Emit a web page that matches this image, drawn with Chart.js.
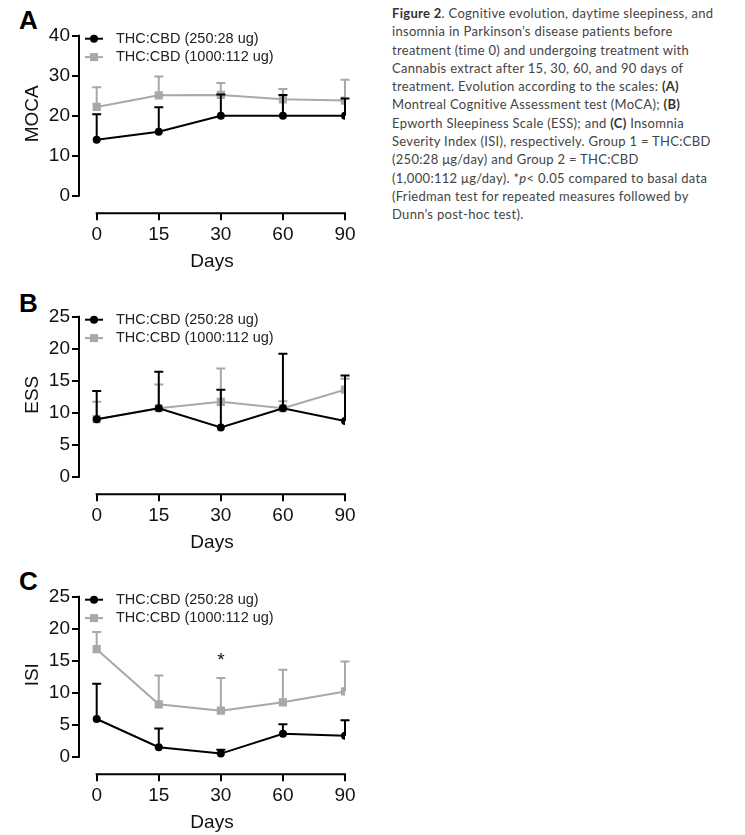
<!DOCTYPE html>
<html>
<head>
<meta charset="utf-8">
<script src="https://cdn.jsdelivr.net/npm/chart.js@4.4.1/dist/chart.umd.min.js"></script>
<style>
body { margin: 0; background: #fff; width: 745px; height: 835px; position: relative; overflow: hidden; }
canvas { position: absolute; left: 0; }
.letter { position: absolute; left: 19px; font: bold 26px "Liberation Sans", Arial, sans-serif; color: #000; }
.caption { position: absolute; left: 392px; top: 4px; font-family: Lato, sans-serif; font-size: 13px; letter-spacing: 0.3px; line-height: 18.3px; color: #444; white-space: nowrap; }
.caption b { font-weight: bold; color: #333; }
</style>
</head>
<body>
<div class="letter" style="top:5px">A</div>
<div class="letter" style="top:288px">B</div>
<div class="letter" style="top:566px">C</div>
<canvas id="chartA" width="370" height="275" style="top:0px"></canvas>
<canvas id="chartB" width="370" height="275" style="top:281px"></canvas>
<canvas id="chartC" width="370" height="275" style="top:560.5px"></canvas>
<div class="caption">
<b>Figure 2</b>. Cognitive evolution, daytime sleepiness, and<br>
insomnia in Parkinson’s disease patients before<br>
treatment (time 0) and undergoing treatment with<br>
Cannabis extract after 15, 30, 60, and 90 days of<br>
treatment. Evolution according to the scales: <b>(A)</b><br>
Montreal Cognitive Assessment test (MoCA); <b>(B)</b><br>
Epworth Sleepiness Scale (ESS); and <b>(C)</b> Insomnia<br>
Severity Index (ISI), respectively. Group 1 = THC:CBD<br>
(250:28 μg/day) and Group 2 = THC:CBD<br>
(1,000:112 μg/day). *<i>p</i>&lt; 0.05 compared to basal data<br>
(Friedman test for repeated measures followed by<br>
Dunn’s post-hoc test).
</div>
<script>
var days = ['0', '15', '30', '60', '90'];
var labelLow = 'THC:CBD (250:28 ug)';
var labelHigh = 'THC:CBD (1000:112 ug)';

// means and SD (upper error bar only)
var mocaLow = [14, 16, 20, 20, 20];
var mocaLowSd = [6.4, 6.1, 5.3, 5.2, 4.3];
var mocaHigh = [22.2, 25.1, 25.2, 24.1, 23.8];
var mocaHighSd = [4.9, 4.7, 3.0, 2.6, 5.2];

var essLow = [9.0, 10.7, 7.7, 10.7, 8.7];
var essLowSd = [4.4, 5.7, 5.9, 8.5, 7.1];
var essHigh = [9.0, 10.7, 11.7, 10.7, 13.6];
var essHighSd = [2.7, 3.7, 5.2, 1.1, 1.7];

var isiLow = [5.9, 1.5, 0.5, 3.6, 3.3];
var isiLowSd = [5.5, 2.9, 0.6, 1.5, 2.4];
var isiHigh = [16.8, 8.2, 7.2, 8.5, 10.2];
var isiHighSd = [2.7, 4.5, 5.1, 5.1, 4.7];
var isiStars = ['', '', '*', '', ''];

var black = '#000';
var gray = '#a8a8a8';
Chart.defaults.font.family = "'Liberation Sans', Arial, sans-serif";

// error bars go under each dataset's line
var errorBars = {
  id: 'errorBars',
  beforeDatasetDraw: function(chart, args) {
    var ds = chart.data.datasets[args.index];
    var y = chart.scales.y;
    var ctx = chart.ctx;
    ctx.save();
    ctx.strokeStyle = ds.borderColor;
    ctx.lineWidth = 2;
    args.meta.data.forEach(function(pt, i) {
      var top = y.getPixelForValue(ds.data[i].y + ds.sd[i]);
      ctx.beginPath();
      ctx.moveTo(pt.x, pt.y);
      ctx.lineTo(pt.x, top);
      ctx.moveTo(pt.x - 4.5, top);
      ctx.lineTo(pt.x + 4.5, top);
      ctx.stroke();
    });
    ctx.restore();
  }
};

// prism style detached axes, legend, y title, stars
var prism = {
  id: 'prism',
  afterDraw: function(chart) {
    var ctx = chart.ctx, x = chart.scales.x, y = chart.scales.y, a = chart.chartArea;
    var o = chart.options.plugins.prism;
    ctx.save();
    ctx.strokeStyle = '#000';
    ctx.lineWidth = 2;
    ctx.beginPath();
    ctx.moveTo(a.left, y.getPixelForValue(0) + 1);
    ctx.lineTo(a.left, y.getPixelForValue(y.max) - 1);
    ctx.moveTo(x.getPixelForValue(0) - 1, a.bottom);
    ctx.lineTo(x.getPixelForValue(days.length - 1) + 1, a.bottom);
    ctx.stroke();

    // y title
    ctx.fillStyle = '#111';
    ctx.font = "19px 'Liberation Sans', Arial, sans-serif";
    ctx.textAlign = 'center';
    ctx.textBaseline = 'middle';
    ctx.translate(33, (y.getPixelForValue(0) + y.getPixelForValue(y.max)) / 2 - 2);
    ctx.rotate(-Math.PI / 2);
    ctx.fillText(o.yTitle, 0, 0);
    ctx.restore();

    // legend
    ctx.save();
    ctx.font = "14.5px 'Liberation Sans', Arial, sans-serif";
    ctx.textBaseline = 'middle';
    chart.data.datasets.forEach(function(ds, i) {
      var ly = a.top + 3 + i * 18.4;
      ctx.strokeStyle = ds.borderColor;
      ctx.lineWidth = 2;
      ctx.beginPath();
      ctx.moveTo(a.left + 6, ly);
      ctx.lineTo(a.left + 24, ly);
      ctx.stroke();
      ctx.fillStyle = ds.borderColor;
      if (ds.pointStyle === 'rect') {
        ctx.fillRect(a.left + 15 - 4, ly - 4, 8, 8);
      } else {
        ctx.beginPath();
        ctx.arc(a.left + 15, ly, 4, 0, Math.PI * 2);
        ctx.fill();
      }
      ctx.fillStyle = '#222';
      ctx.fillText(ds.label, a.left + 37, ly);
    });
    ctx.restore();

    // significance marks
    if (o.stars) {
      var hi = chart.data.datasets[1];
      ctx.save();
      ctx.fillStyle = '#111';
      ctx.font = "19px 'Liberation Sans', Arial, sans-serif";
      ctx.textAlign = 'center';
      ctx.textBaseline = 'middle';
      o.stars.forEach(function(s, i) {
        if (!s) return;
        var top = y.getPixelForValue(hi.data[i].y + hi.sd[i]);
        ctx.fillText(s, x.getPixelForValue(i), top - 17);
      });
      ctx.restore();
    }
  }
};

function points(vals) {
  return vals.map(function(v, i) { return { x: i, y: v }; });
}

function makePanel(id, yTitle, yMax, yStep, low, lowSd, high, highSd, stars) {
  var yMin = -yMax * 17.5 / 160;
  return new Chart(document.getElementById(id), {
    type: 'line',
    data: {
      datasets: [
        { label: labelLow, data: points(low), sd: lowSd, borderColor: black, backgroundColor: black,
          borderWidth: 2, pointStyle: 'circle', pointRadius: 4, pointBorderWidth: 0, tension: 0 },
        { label: labelHigh, data: points(high), sd: highSd, borderColor: gray, backgroundColor: gray,
          borderWidth: 2, pointStyle: 'rect', pointRadius: 5.8, pointBorderWidth: 0, tension: 0 }
      ]
    },
    options: {
      responsive: false,
      animation: false,
      layout: { padding: { top: 35.7, right: 25, left: 0, bottom: 0 } },
      plugins: {
        legend: { display: false },
        tooltip: { enabled: false },
        prism: { yTitle: yTitle, stars: stars }
      },
      scales: {
        x: {
          type: 'linear',
          min: -0.285,
          max: days.length - 1,
          afterBuildTicks: function(s) { s.ticks = days.map(function(d, i) { return { value: i }; }); },
          afterFit: function(s) { s.height = 275 - 213.3; },
          grid: { drawOnChartArea: false, drawTicks: true, tickLength: 7, color: '#000', lineWidth: 2 },
          border: { display: false },
          ticks: { callback: function(v) { return days[v]; }, font: { size: 19 }, color: '#111', padding: 3, maxRotation: 0, autoSkip: false },
          title: { display: true, text: 'Days', font: { size: 19 }, color: '#111', padding: { top: 0, bottom: 2 } }
        },
        y: {
          min: yMin,
          max: yMax,
          afterBuildTicks: function(s) {
            var t = [];
            for (var v = 0; v <= yMax; v += yStep) t.push({ value: v });
            s.ticks = t;
          },
          afterFit: function(s) { s.width = 79; },
          grid: { drawOnChartArea: false, drawTicks: true, tickLength: 7, color: '#000', lineWidth: 2 },
          border: { display: false },
          ticks: { font: { size: 19 }, color: '#111', padding: 2 }
        }
      }
    },
    plugins: [errorBars, prism]
  });
}

makePanel('chartA', 'MOCA', 40, 10, mocaLow, mocaLowSd, mocaHigh, mocaHighSd, null);
makePanel('chartB', 'ESS', 25, 5, essLow, essLowSd, essHigh, essHighSd, null);
makePanel('chartC', 'ISI', 25, 5, isiLow, isiLowSd, isiHigh, isiHighSd, isiStars);
</script>
</body>
</html>
